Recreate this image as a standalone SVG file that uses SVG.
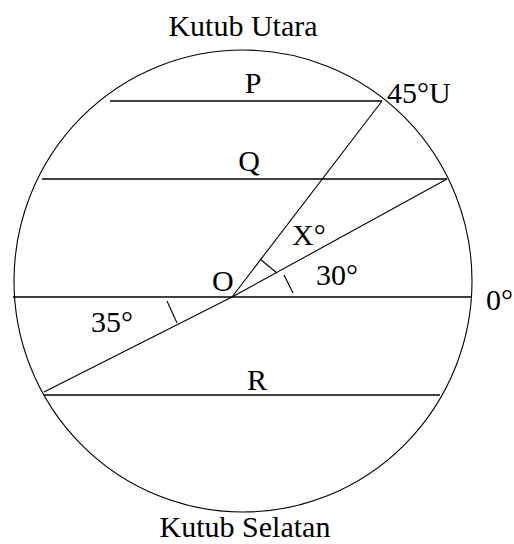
<svg xmlns="http://www.w3.org/2000/svg" width="514" height="544" viewBox="0 0 514 544">
<style>
text{font-family:"Liberation Serif","Times New Roman",serif;font-size:30px;fill:#000}
.h{stroke:#000;stroke-width:1.6;fill:none}
.r{stroke:#000;stroke-width:1.1;fill:none}
</style>
<rect width="514" height="544" fill="#fff"/>
<g id="globe"><ellipse cx="243" cy="281" rx="229" ry="231" class="r" stroke-width="1.3"/></g>
<g id="connectors">
<line x1="110" y1="101" x2="382" y2="101" class="h"/>
<line x1="42" y1="179" x2="447" y2="179" class="h"/>
<line x1="13" y1="297" x2="472" y2="297" class="h"/>
<line x1="44" y1="395" x2="440" y2="395" class="h"/>
<line x1="232" y1="297" x2="382" y2="101" class="r"/>
<line x1="232" y1="297" x2="447" y2="179" class="r"/>
<line x1="232" y1="297" x2="44" y2="392" class="r"/>
<line x1="260" y1="259" x2="277" y2="273" class="r"/>
<line x1="284" y1="275" x2="293" y2="293" class="r"/>
<line x1="167" y1="301" x2="177" y2="323" class="r"/>
</g>
<g id="labels">
<text x="243" y="36" text-anchor="middle">Kutub Utara</text>
<text x="253" y="93" text-anchor="middle">P</text>
<text x="387" y="103">45°U</text>
<text x="249" y="171" text-anchor="middle">Q</text>
<text x="292" y="245">X°</text>
<text x="316" y="285">30°</text>
<text x="212" y="291">O</text>
<text x="486" y="310">0°</text>
<text x="91" y="332">35°</text>
<text x="257" y="390" text-anchor="middle">R</text>
<text x="245" y="537" text-anchor="middle">Kutub Selatan</text>
</g>
</svg>
